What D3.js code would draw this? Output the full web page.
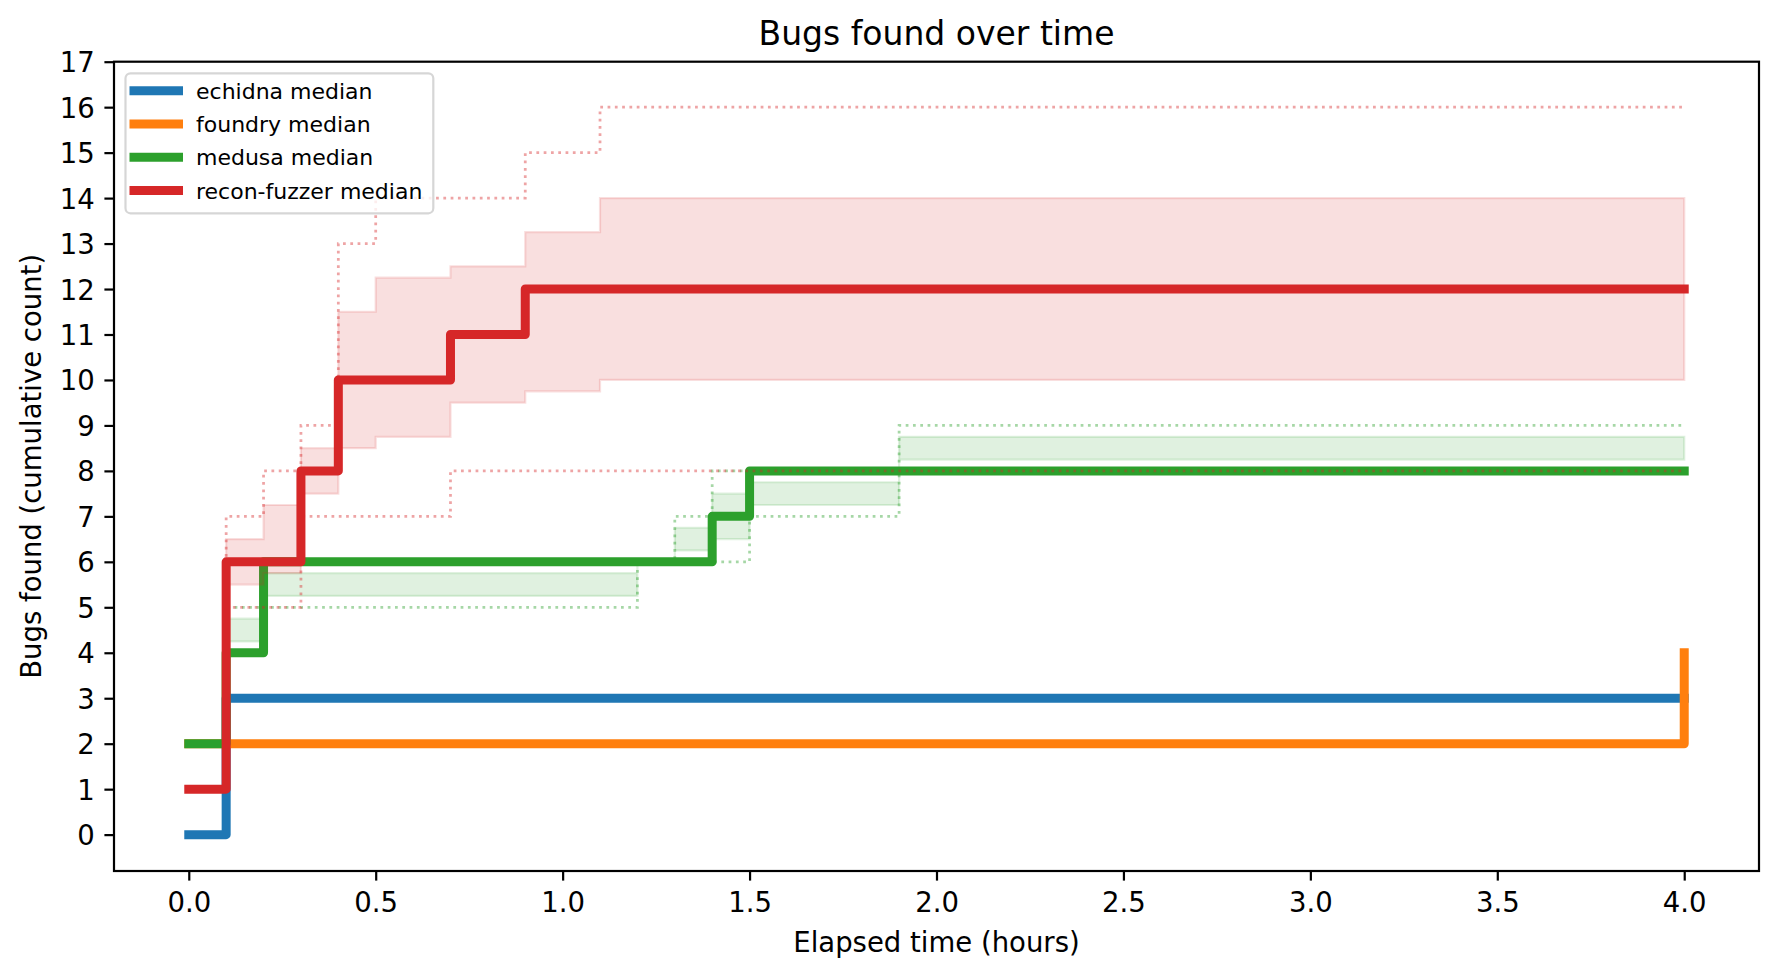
<!DOCTYPE html>
<html>
<head>
<meta charset="utf-8">
<script src="https://cdn.jsdelivr.net/npm/d3@7"></script>
<style>
  body { margin: 0; background: #fff; }
  text { font-family: "DejaVu Sans", sans-serif; fill: #000; }
</style>
</head>
<body>
<div id="vis"></div>
<script>
const width = 1779;
const height = 978;

// Sample times (hours) where any series changes, plus the end of the run
const times = [0, 0.1, 0.2, 0.3, 0.4, 0.5, 0.7, 0.9, 1.1, 1.2, 1.3, 1.4, 1.5, 1.9, 4.0];

const echidnaMedian = [0, 3, 3, 3, 3, 3, 3, 3, 3, 3, 3, 3, 3, 3, 3];
const foundryMedian = [2, 2, 2, 2, 2, 2, 2, 2, 2, 2, 2, 2, 2, 2, 4];

const medusaMedian = [2, 4, 6, 6, 6, 6, 6, 6, 6, 6, 6, 7, 8, 8, 8];
const medusaQ1     = [2, 4.25, 5.25, 5.25, 5.25, 5.25, 5.25, 5.25, 5.25, 6, 6.25, 6.5, 7.25, 8.25, 8.25];
const medusaQ3     = [2, 4.75, 5.75, 5.75, 5.75, 5.75, 5.75, 5.75, 5.75, 6, 6.75, 7.5, 7.75, 8.75, 8.75];
const medusaMin    = [2, 4, 5, 5, 5, 5, 5, 5, 5, 6, 6, 6, 7, 8, 8];
const medusaMax    = [2, 5, 6, 6, 6, 6, 6, 6, 6, 6, 7, 8, 8, 9, 9];

const reconMedian = [1, 6, 6, 8, 10, 10, 11, 12, 12, 12, 12, 12, 12, 12, 12];
const reconQ1     = [1, 5.5, 5.75, 7.5, 8.5, 8.75, 9.5, 9.75, 10, 10, 10, 10, 10, 10, 10];
const reconQ3     = [1, 6.5, 7.25, 8.5, 11.5, 12.25, 12.5, 13.25, 14, 14, 14, 14, 14, 14, 14];
const reconMin    = [1, 5, 5, 7, 7, 7, 8, 8, 8, 8, 8, 8, 8, 8, 8];
const reconMax    = [1, 7, 8, 9, 13, 14, 14, 15, 16, 16, 16, 16, 16, 16, 16];

const xTicks = [0, 0.5, 1, 1.5, 2, 2.5, 3, 3.5, 4];
const yTicks = d3.range(0, 18);

const fuzzers = [
  { name: "echidna", color: "#1f77b4", median: echidnaMedian },
  { name: "foundry", color: "#ff7f0e", median: foundryMedian },
  { name: "medusa", color: "#2ca02c", median: medusaMedian,
    q1: medusaQ1, q3: medusaQ3, min: medusaMin, max: medusaMax },
  { name: "recon-fuzzer", color: "#d62728", median: reconMedian,
    q1: reconQ1, q3: reconQ3, min: reconMin, max: reconMax }
];

const margin = { left: 114, right: 1759, top: 61.7, bottom: 871 };

const x = d3.scaleLinear().domain([-0.2, 4.2]).range([margin.left, margin.right]);
const y = d3.scaleLinear().domain([-0.8, 17]).range([margin.bottom, margin.top]);

const svg = d3.select("#vis").append("svg")
  .attr("width", width)
  .attr("height", height);

svg.append("rect").attr("width", width).attr("height", height).attr("fill", "#fff");

const plot = svg.append("g");

const stepLine = d3.line()
  .x((d, i) => x(times[i]))
  .y(d => y(d))
  .curve(d3.curveStepAfter);

const stepArea = d3.area()
  .x((d, i) => x(times[i]))
  .y0(d => y(d[0]))
  .y1(d => y(d[1]))
  .curve(d3.curveStepAfter);

fuzzers.forEach(f => {
  if (f.q1) {
    // interquartile band
    plot.append("path")
      .attr("d", stepArea(f.q1.map((v, i) => [v, f.q3[i]])))
      .attr("fill", f.color)
      .attr("fill-opacity", 0.15)
      .attr("stroke", f.color)
      .attr("stroke-opacity", 0.15)
      .attr("stroke-width", 2.2);

    // min / max envelope
    [f.min, f.max].forEach(s => {
      plot.append("path")
        .attr("d", stepLine(s))
        .attr("fill", "none")
        .attr("stroke", f.color)
        .attr("stroke-opacity", 0.42)
        .attr("stroke-width", 2.75)
        .attr("stroke-dasharray", "2.75,4.54");
    });
  }

  plot.append("path")
    .attr("d", stepLine(f.median))
    .attr("fill", "none")
    .attr("stroke", f.color)
    .attr("stroke-width", 9)
    .attr("stroke-linejoin", "round")
    .attr("stroke-linecap", "square");
});

// Axes
const xAxis = svg.append("g")
  .attr("transform", `translate(0,${margin.bottom})`)
  .call(d3.axisBottom(x).tickValues(xTicks).tickFormat(d3.format(".1f")).tickSize(9.6).tickSizeOuter(0));

const yAxis = svg.append("g")
  .attr("transform", `translate(${margin.left},0)`)
  .call(d3.axisLeft(y).tickValues(yTicks).tickFormat(d3.format("d")).tickSize(9.6).tickSizeOuter(0));

[xAxis, yAxis].forEach(g => {
  g.select(".domain").remove();
  g.selectAll(".tick line").attr("stroke", "#000").attr("stroke-width", 2.2);
  g.selectAll(".tick text")
    .style("font-family", "DejaVu Sans")
    .style("font-size", "27.5px")
    .attr("fill", "#000");
});
xAxis.selectAll(".tick text").attr("y", 40.5).attr("dy", null);
yAxis.selectAll(".tick text").attr("x", -19.2).attr("dy", "0.364em");

// Frame
svg.append("rect")
  .attr("x", margin.left)
  .attr("y", margin.top)
  .attr("width", margin.right - margin.left)
  .attr("height", margin.bottom - margin.top)
  .attr("fill", "none")
  .attr("stroke", "#000")
  .attr("stroke-width", 2.2);

// Title and labels
const cx = (margin.left + margin.right) / 2;
svg.append("text")
  .attr("x", cx).attr("y", 45)
  .attr("text-anchor", "middle")
  .style("font-size", "33px")
  .text("Bugs found over time");

svg.append("text")
  .attr("x", cx).attr("y", 951.7)
  .attr("text-anchor", "middle")
  .style("font-size", "27.5px")
  .text("Elapsed time (hours)");

svg.append("text")
  .attr("transform", `translate(40.7,${(margin.top + margin.bottom) / 2}) rotate(-90)`)
  .attr("text-anchor", "middle")
  .style("font-size", "27.5px")
  .text("Bugs found (cumulative count)");

// Legend
const legend = svg.append("g");
legend.append("rect")
  .attr("x", 125.5).attr("y", 73.3)
  .attr("width", 307.8).attr("height", 140)
  .attr("rx", 5).attr("ry", 5)
  .attr("fill", "#fff").attr("fill-opacity", 0.8)
  .attr("stroke", "#cccccc").attr("stroke-opacity", 0.8)
  .attr("stroke-width", 2.2);

fuzzers.forEach((f, i) => {
  const cy = 90.7 + i * 33.3;
  legend.append("line")
    .attr("x1", 134).attr("x2", 178.5)
    .attr("y1", cy).attr("y2", cy)
    .attr("stroke", f.color)
    .attr("stroke-width", 9)
    .attr("stroke-linecap", "square");
  legend.append("text")
    .attr("x", 196).attr("y", cy + 8)
    .style("font-size", "22px")
    .text(`${f.name} median`);
});
</script>
</body>
</html>
